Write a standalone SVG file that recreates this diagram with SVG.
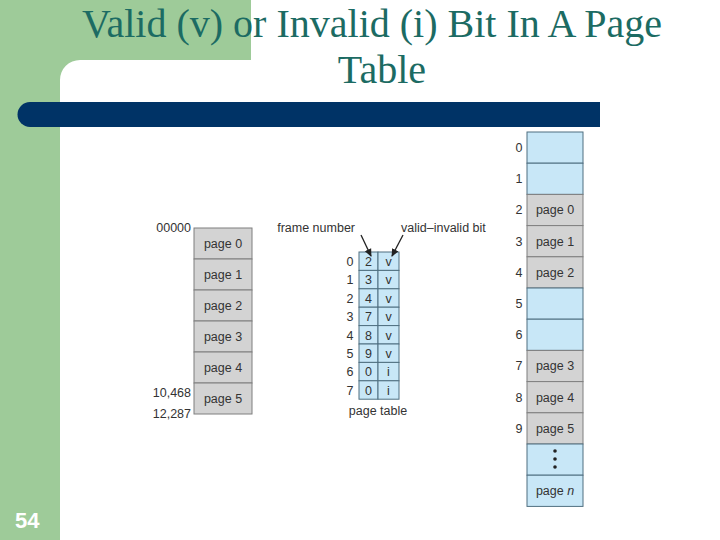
<svg xmlns="http://www.w3.org/2000/svg" width="720" height="540" viewBox="0 0 720 540">
<style>
.t{font-family:"Liberation Sans",Arial,sans-serif;font-size:12.5px;fill:#333}
.c{text-anchor:middle}
.e{text-anchor:end}
.g{fill:#d3d3d3;stroke:#7f7f7f;stroke-width:1}
.b{fill:#c8e7f7;stroke:#4f6f80;stroke-width:1}
.title{font-family:"Liberation Serif","Times New Roman",serif;font-size:40px;fill:#1c6b63;text-anchor:middle}
</style>
<defs>
<marker id="ah" markerWidth="8" markerHeight="8" refX="7" refY="4" orient="auto" markerUnits="userSpaceOnUse">
<path d="M0,0.5 L8,4 L0,7.5 Z" fill="#222"/>
</marker>
</defs>
<rect width="720" height="540" fill="#fff"/>
<g id="background">
<rect x="0" y="0" width="60" height="540" fill="#9ecb99"/>
<rect x="0" y="0" width="251" height="60" fill="#9ecb99"/>
<path d="M60,80 A20,20 0 0 1 80,60 L60,60 Z" fill="#9ecb99"/>
<path d="M30,102 L600,102 L600,127 L30,127 A12.5,12.5 0 0 1 30,102 Z" fill="#003366"/>
</g>
<g id="title">
<text class="title" x="372" y="37">Valid (v) or Invalid (i) Bit In A Page</text>
<text class="title" x="382" y="83">Table</text>
</g>
<g id="slide-number">
<text x="15" y="528" font-family="Liberation Sans,Arial,sans-serif" font-size="22" font-weight="bold" fill="#fff">54</text>
</g>
<g id="logical-memory">
<rect class="g" x="194" y="228" width="58" height="31"/>
<rect class="g" x="194" y="259" width="58" height="31"/>
<rect class="g" x="194" y="290" width="58" height="31"/>
<rect class="g" x="194" y="321" width="58" height="31"/>
<rect class="g" x="194" y="352" width="58" height="31"/>
<rect class="g" x="194" y="383" width="58" height="31"/>
<text class="t c" x="223" y="248">page 0</text>
<text class="t c" x="223" y="279">page 1</text>
<text class="t c" x="223" y="310">page 2</text>
<text class="t c" x="223" y="341">page 3</text>
<text class="t c" x="223" y="372">page 4</text>
<text class="t c" x="223" y="403">page 5</text>
<text class="t e" x="191" y="232">00000</text>
<text class="t e" x="191" y="397">10,468</text>
<text class="t e" x="191" y="418">12,287</text>
</g>
<g id="page-table">
<rect class="b" x="359" y="252" width="19" height="18.4"/><rect class="b" x="378" y="252" width="21" height="18.4"/>
<rect class="b" x="359" y="270.4" width="19" height="18.4"/><rect class="b" x="378" y="270.4" width="21" height="18.4"/>
<rect class="b" x="359" y="288.8" width="19" height="18.4"/><rect class="b" x="378" y="288.8" width="21" height="18.4"/>
<rect class="b" x="359" y="307.2" width="19" height="18.4"/><rect class="b" x="378" y="307.2" width="21" height="18.4"/>
<rect class="b" x="359" y="325.6" width="19" height="18.4"/><rect class="b" x="378" y="325.6" width="21" height="18.4"/>
<rect class="b" x="359" y="344" width="19" height="18.4"/><rect class="b" x="378" y="344" width="21" height="18.4"/>
<rect class="b" x="359" y="362.4" width="19" height="18.4"/><rect class="b" x="378" y="362.4" width="21" height="18.4"/>
<rect class="b" x="359" y="380.8" width="19" height="18.4"/><rect class="b" x="378" y="380.8" width="21" height="18.4"/>
<text class="t c" x="368.5" y="266">2</text><text class="t c" x="388.5" y="266">v</text>
<text class="t c" x="368.5" y="284.4">3</text><text class="t c" x="388.5" y="284.4">v</text>
<text class="t c" x="368.5" y="302.8">4</text><text class="t c" x="388.5" y="302.8">v</text>
<text class="t c" x="368.5" y="321.2">7</text><text class="t c" x="388.5" y="321.2">v</text>
<text class="t c" x="368.5" y="339.6">8</text><text class="t c" x="388.5" y="339.6">v</text>
<text class="t c" x="368.5" y="358">9</text><text class="t c" x="388.5" y="358">v</text>
<text class="t c" x="368.5" y="376.4">0</text><text class="t c" x="388.5" y="376.4">i</text>
<text class="t c" x="368.5" y="394.8">0</text><text class="t c" x="388.5" y="394.8">i</text>
<text class="t c" x="350" y="266">0</text>
<text class="t c" x="350" y="284.4">1</text>
<text class="t c" x="350" y="302.8">2</text>
<text class="t c" x="350" y="321.2">3</text>
<text class="t c" x="350" y="339.6">4</text>
<text class="t c" x="350" y="358">5</text>
<text class="t c" x="350" y="376.4">6</text>
<text class="t c" x="350" y="394.8">7</text>
<text class="t c" x="378" y="415">page table</text>
<text class="t e" x="355" y="232">frame number</text>
<text class="t" x="401" y="232">valid–invalid bit</text>
</g>
<g id="physical-memory">
<rect class="b" x="527" y="132" width="56" height="31.2"/>
<rect class="b" x="527" y="163.2" width="56" height="31.2"/>
<rect class="g" x="527" y="194.4" width="56" height="31.2"/>
<rect class="g" x="527" y="225.6" width="56" height="31.2"/>
<rect class="g" x="527" y="256.8" width="56" height="31.2"/>
<rect class="b" x="527" y="288" width="56" height="31.2"/>
<rect class="b" x="527" y="319.2" width="56" height="31.2"/>
<rect class="g" x="527" y="350.4" width="56" height="31.2"/>
<rect class="g" x="527" y="381.6" width="56" height="31.2"/>
<rect class="g" x="527" y="412.8" width="56" height="31.2"/>
<rect class="b" x="527" y="444" width="56" height="31.2"/>
<rect class="b" x="527" y="475.2" width="56" height="31.2"/>
<text class="t c" x="519" y="152">0</text>
<text class="t c" x="519" y="183.2">1</text>
<text class="t c" x="519" y="214.4">2</text>
<text class="t c" x="519" y="245.6">3</text>
<text class="t c" x="519" y="276.8">4</text>
<text class="t c" x="519" y="308">5</text>
<text class="t c" x="519" y="339.2">6</text>
<text class="t c" x="519" y="370.4">7</text>
<text class="t c" x="519" y="401.6">8</text>
<text class="t c" x="519" y="432.8">9</text>
<text class="t c" x="555" y="214.4">page 0</text>
<text class="t c" x="555" y="245.6">page 1</text>
<text class="t c" x="555" y="276.8">page 2</text>
<text class="t c" x="555" y="370.4">page 3</text>
<text class="t c" x="555" y="401.6">page 4</text>
<text class="t c" x="555" y="432.8">page 5</text>
<circle cx="555" cy="451" r="1.8" fill="#222"/>
<circle cx="555" cy="459" r="1.8" fill="#222"/>
<circle cx="555" cy="467" r="1.8" fill="#222"/>
<text class="t c" x="555" y="495.2">page <tspan font-style="italic">n</tspan></text>
</g>
<g id="connectors" stroke="#222" stroke-width="1.3" fill="none">
<line x1="361" y1="235" x2="371" y2="256" marker-end="url(#ah)"/>
<line x1="403" y1="235" x2="392" y2="256" marker-end="url(#ah)"/>
</g>
</svg>
